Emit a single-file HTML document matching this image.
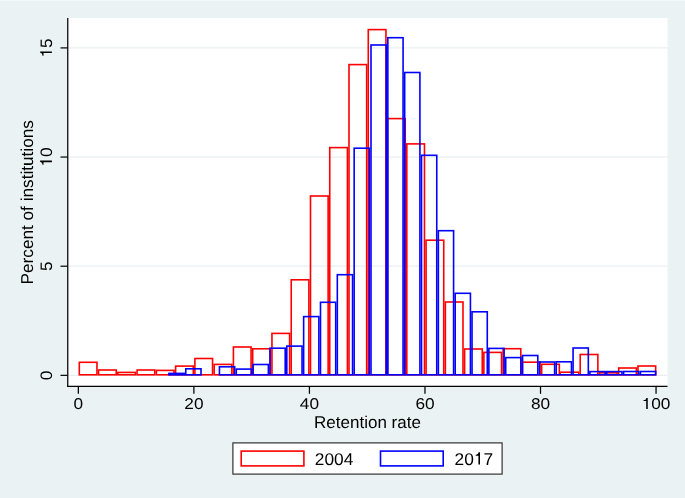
<!DOCTYPE html>
<html><head><meta charset="utf-8"><style>
html,body{margin:0;padding:0;background:rgb(234,242,243);}
svg{display:block;will-change:transform;}
text{font-family:"Liberation Sans",sans-serif;fill:#000;text-rendering:geometricPrecision;}
.tl{font-size:15.6px;}
.tt{font-size:17px;}
.lg{font-size:17px;}
</style></head><body>
<svg width="685" height="498" viewBox="0 0 685 498"><rect x="0" y="0" width="685" height="498" fill="rgb(234,242,243)"/>
<rect x="0" y="0" width="685" height="1" fill="rgb(243,248,248)"/>
<rect x="67" y="18" width="600.5" height="368" fill="#fff"/>
<line x1="67.5" x2="667.5" y1="375.35" y2="375.35" stroke="rgb(232,240,243)" stroke-width="1.3"/>
<line x1="67.5" x2="667.5" y1="266.20" y2="266.20" stroke="rgb(232,240,243)" stroke-width="1.3"/>
<line x1="67.5" x2="667.5" y1="157.05" y2="157.05" stroke="rgb(232,240,243)" stroke-width="1.3"/>
<line x1="67.5" x2="667.5" y1="47.90" y2="47.90" stroke="rgb(232,240,243)" stroke-width="1.3"/>
<g fill="none" stroke="#ff0000" stroke-width="1.6"><rect x="79.30" y="362.30" width="17.67" height="12.50"/><rect x="98.56" y="370.00" width="17.67" height="4.80"/><rect x="117.83" y="372.40" width="17.67" height="2.40"/><rect x="137.10" y="370.00" width="17.66" height="4.80"/><rect x="156.36" y="370.40" width="17.66" height="4.40"/><rect x="175.62" y="366.10" width="17.66" height="8.70"/><rect x="194.89" y="358.50" width="17.66" height="16.30"/><rect x="214.16" y="364.40" width="17.66" height="10.40"/><rect x="233.42" y="347.00" width="17.66" height="27.80"/><rect x="252.69" y="348.80" width="17.66" height="26.00"/><rect x="271.95" y="333.40" width="17.67" height="41.40"/><rect x="291.22" y="279.80" width="17.66" height="95.00"/><rect x="310.48" y="196.00" width="17.66" height="178.80"/><rect x="329.75" y="147.60" width="17.67" height="227.20"/><rect x="349.01" y="64.60" width="17.66" height="310.20"/><rect x="368.28" y="29.60" width="17.66" height="345.20"/><rect x="387.54" y="118.60" width="17.66" height="256.20"/><rect x="406.81" y="143.90" width="17.66" height="230.90"/><rect x="426.07" y="240.20" width="17.67" height="134.60"/><rect x="445.34" y="302.00" width="17.66" height="72.80"/><rect x="464.60" y="349.00" width="17.66" height="25.80"/><rect x="483.87" y="352.40" width="17.67" height="22.40"/><rect x="503.13" y="348.70" width="17.67" height="26.10"/><rect x="522.39" y="362.20" width="17.67" height="12.60"/><rect x="541.66" y="364.30" width="17.67" height="10.50"/><rect x="560.92" y="372.20" width="17.67" height="2.60"/><rect x="580.19" y="354.50" width="17.67" height="20.30"/><rect x="599.45" y="372.80" width="17.67" height="2.00"/><rect x="618.72" y="368.00" width="17.67" height="6.80"/><rect x="637.99" y="366.00" width="17.67" height="8.80"/></g>
<g fill="none" stroke="#0000ff" stroke-width="1.6"><rect x="168.93" y="373.40" width="15.24" height="1.40"/><rect x="185.77" y="368.80" width="15.24" height="6.00"/><rect x="219.45" y="366.80" width="15.24" height="8.00"/><rect x="236.29" y="369.10" width="15.24" height="5.70"/><rect x="253.12" y="364.50" width="15.24" height="10.30"/><rect x="269.96" y="348.20" width="15.24" height="26.60"/><rect x="286.80" y="346.10" width="15.24" height="28.70"/><rect x="303.64" y="316.60" width="15.24" height="58.20"/><rect x="320.48" y="302.30" width="15.24" height="72.50"/><rect x="337.32" y="274.70" width="15.24" height="100.10"/><rect x="354.16" y="148.20" width="15.24" height="226.60"/><rect x="371.00" y="45.00" width="15.24" height="329.80"/><rect x="387.84" y="37.70" width="15.24" height="337.10"/><rect x="404.68" y="72.50" width="15.24" height="302.30"/><rect x="421.51" y="155.30" width="15.24" height="219.50"/><rect x="438.35" y="230.70" width="15.24" height="144.10"/><rect x="455.19" y="293.30" width="15.24" height="81.50"/><rect x="472.03" y="311.80" width="15.24" height="63.00"/><rect x="488.87" y="348.40" width="15.24" height="26.40"/><rect x="505.71" y="357.60" width="15.24" height="17.20"/><rect x="522.55" y="355.50" width="15.24" height="19.30"/><rect x="539.39" y="362.00" width="15.24" height="12.80"/><rect x="556.23" y="361.80" width="15.24" height="13.00"/><rect x="573.07" y="348.00" width="15.24" height="26.80"/><rect x="589.90" y="371.60" width="15.24" height="3.20"/><rect x="606.74" y="371.60" width="15.24" height="3.20"/><rect x="623.58" y="371.50" width="15.24" height="3.30"/><rect x="640.42" y="371.50" width="15.24" height="3.30"/></g>
<line x1="67.75" x2="67.75" y1="18" y2="387" stroke="#000" stroke-width="1.25"/>
<line x1="67.1" x2="667.5" y1="386.35" y2="386.35" stroke="#000" stroke-width="1.3"/>
<line x1="60.5" x2="67.5" y1="375.35" y2="375.35" stroke="#000" stroke-width="1.2"/>
<g transform="translate(52.30,375.35) rotate(-90) scale(1.04,1)" fill="#000"><text x="-4.61" y="0" style="font-size:16.6px">0</text></g>
<line x1="60.5" x2="67.5" y1="266.20" y2="266.20" stroke="#000" stroke-width="1.2"/>
<g transform="translate(52.30,266.20) rotate(-90) scale(1.04,1)" fill="#000"><text x="-4.61" y="0" style="font-size:16.6px">5</text></g>
<line x1="60.5" x2="67.5" y1="157.05" y2="157.05" stroke="#000" stroke-width="1.2"/>
<g transform="translate(52.30,157.05) rotate(-90) scale(1.04,1)" fill="#000"><path d="M -3.39 -0.40 L -4.88 -0.40 L -4.88 -8.78 L -7.47 -8.78 L -7.47 -9.83 C -5.83 -9.93 -5.00 -10.44 -4.71 -12.17 L -3.39 -12.17 Z"/><text x="0.00" y="0" style="font-size:16.6px">0</text></g>
<line x1="60.5" x2="67.5" y1="47.90" y2="47.90" stroke="#000" stroke-width="1.2"/>
<g transform="translate(52.30,47.90) rotate(-90) scale(1.04,1)" fill="#000"><path d="M -3.39 -0.40 L -4.88 -0.40 L -4.88 -8.78 L -7.47 -8.78 L -7.47 -9.83 C -5.83 -9.93 -5.00 -10.44 -4.71 -12.17 L -3.39 -12.17 Z"/><text x="0.00" y="0" style="font-size:16.6px">5</text></g>
<line x1="78.35" x2="78.35" y1="386.5" y2="393.8" stroke="#000" stroke-width="1.25"/>
<g transform="translate(78.35,409.40) scale(1.105,1)" fill="#000"><text x="-4.34" y="0" style="font-size:15.6px">0</text></g>
<line x1="193.89" x2="193.89" y1="386.5" y2="393.8" stroke="#000" stroke-width="1.25"/>
<g transform="translate(193.89,409.40) scale(1.105,1)" fill="#000"><text x="-8.67" y="0" style="font-size:15.6px">2</text><text x="0.00" y="0" style="font-size:15.6px">0</text></g>
<line x1="309.43" x2="309.43" y1="386.5" y2="393.8" stroke="#000" stroke-width="1.25"/>
<g transform="translate(309.43,409.40) scale(1.105,1)" fill="#000"><text x="-8.67" y="0" style="font-size:15.6px">4</text><text x="0.00" y="0" style="font-size:15.6px">0</text></g>
<line x1="424.97" x2="424.97" y1="386.5" y2="393.8" stroke="#000" stroke-width="1.25"/>
<g transform="translate(424.97,409.40) scale(1.105,1)" fill="#000"><text x="-8.67" y="0" style="font-size:15.6px">6</text><text x="0.00" y="0" style="font-size:15.6px">0</text></g>
<line x1="540.51" x2="540.51" y1="386.5" y2="393.8" stroke="#000" stroke-width="1.25"/>
<g transform="translate(540.51,409.40) scale(1.105,1)" fill="#000"><text x="-8.67" y="0" style="font-size:15.6px">8</text><text x="0.00" y="0" style="font-size:15.6px">0</text></g>
<line x1="656.05" x2="656.05" y1="386.5" y2="393.8" stroke="#000" stroke-width="1.25"/>
<g transform="translate(656.05,409.40) scale(1.105,1)" fill="#000"><path d="M -7.52 -0.40 L -8.92 -0.40 L -8.92 -8.28 L -11.36 -8.28 L -11.36 -9.26 C -9.81 -9.35 -9.03 -9.84 -8.77 -11.46 L -7.52 -11.46 Z"/><text x="-4.34" y="0" style="font-size:15.6px">0</text><text x="4.34" y="0" style="font-size:15.6px">0</text></g>
<text x="367.5" y="427.6" text-anchor="middle" class="tt">Retention rate</text>
<text x="0" y="0" transform="translate(32.6,202.3) rotate(-90)" text-anchor="middle" class="tt" style="font-size:17.2px">Percent of institutions</text>
<rect x="232.9" y="442.9" width="269.2" height="31.2" fill="#fff" stroke="#333" stroke-width="1.2"/>
<rect x="241.2" y="451.1" width="62.7" height="14.8" fill="none" stroke="#ff0000" stroke-width="1.6"/>
<rect x="380.5" y="451.1" width="62.7" height="14.8" fill="none" stroke="#0000ff" stroke-width="1.6"/>
<g transform="translate(314.80,464.80) scale(1.02,1)" fill="#000"><text x="0.00" y="0" style="font-size:17px">2</text><text x="9.45" y="0" style="font-size:17px">0</text><text x="18.90" y="0" style="font-size:17px">0</text><text x="28.36" y="0" style="font-size:17px">4</text></g>
<g transform="translate(454.60,464.80) scale(1.02,1)" fill="#000"><text x="0.00" y="0" style="font-size:17px">2</text><text x="9.45" y="0" style="font-size:17px">0</text><path d="M 24.89 -0.40 L 23.36 -0.40 L 23.36 -8.99 L 20.71 -8.99 L 20.71 -10.06 C 22.39 -10.16 23.24 -10.69 23.53 -12.45 L 24.89 -12.45 Z"/><text x="28.36" y="0" style="font-size:17px">7</text></g></svg>
</body></html>
